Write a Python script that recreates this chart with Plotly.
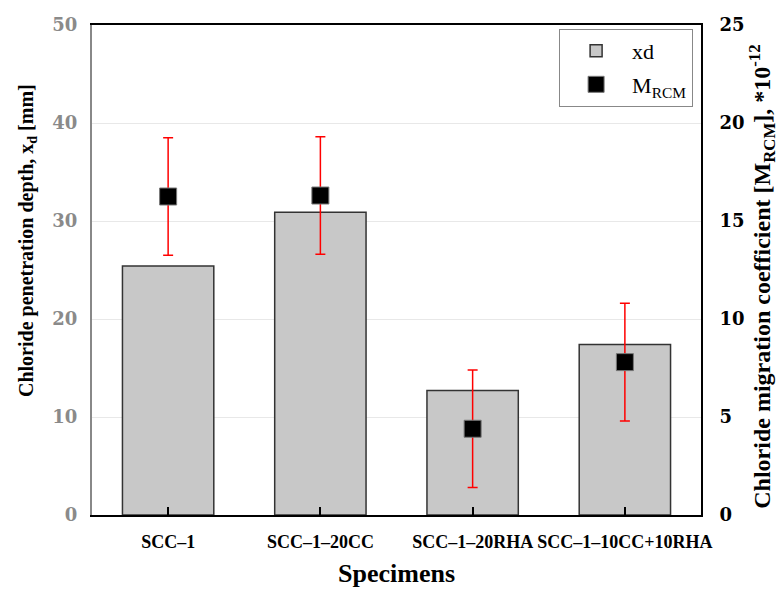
import plotly.graph_objects as go

categories = ["SCC–1", "SCC–1–20CC", "SCC–1–20RHA", "SCC–1–10CC+10RHA"]
xd_values = [25.4, 30.9, 12.7, 17.4]
mrcm_values = [16.25, 16.3, 4.4, 7.8]
mrcm_errors = [3.0, 3.0, 3.0, 3.0]

SERIF = "Liberation Serif"
NUM = "DejaVu Serif"

fig = go.Figure()
fig.add_trace(go.Bar(
    x=categories, y=xd_values, name="xd", legendgroup="a",
    marker=dict(color="#c8c8c8", line=dict(color="#333333", width=1.5)),
    width=0.6, yaxis="y",
))
fig.add_trace(go.Scatter(
    x=categories, y=mrcm_values, name="M<sub>RCM</sub>", mode="markers", legendgroup="b",
    marker=dict(symbol="square", size=17, color="black", line=dict(color="#777777", width=1)),
    error_y=dict(type="data", array=mrcm_errors, color="red", thickness=1.5, width=5),
    yaxis="y2",
))

fig.update_layout(
    width=779, height=589,
    margin=dict(l=92, r=78, t=25, b=74),
    paper_bgcolor="white", plot_bgcolor="white",
    font=dict(family=SERIF, color="black"),
    showlegend=True,
    legend=dict(
        x=0.767, y=0.992, xanchor="left", yanchor="top",
        bordercolor="#888888", borderwidth=1, bgcolor="white",
        font=dict(family=SERIF, size=22, color="black"),
        itemsizing="trace", traceorder="grouped", tracegroupgap=2,
        itemwidth=62,
    ),
    xaxis=dict(
        showline=True, linecolor="black", linewidth=2, mirror=True,
        ticks="inside", ticklen=8, tickcolor="black", tickwidth=1.5,
        tickfont=dict(family=SERIF, size=18, color="black", weight="bold"),
        showgrid=False, ticklabelstandoff=9,
    ),
    yaxis=dict(
        range=[0, 50], dtick=10,
        showline=True, linecolor="#888888", linewidth=2,
        showgrid=True, gridcolor="#e8e8e8", gridwidth=1,
        zeroline=False,
        tickfont=dict(family=NUM, size=18, color="#8a8a8a", weight="bold"),
        ticklabelstandoff=9,
    ),
    yaxis2=dict(
        range=[0, 25], dtick=5, overlaying="y", side="right",
        showline=True, linecolor="black", linewidth=2,
        showgrid=False, zeroline=False,
        tickfont=dict(family=NUM, size=18, color="black", weight="bold"),
        ticklabelstandoff=13,
    ),
    annotations=[
        dict(text="<b>Chloride penetration depth, x<sub>d</sub> [mm]</b>",
             xref="paper", yref="paper", x=-0.106, y=0.56,
             xanchor="center", yanchor="middle", textangle=-90, showarrow=False,
             font=dict(family=SERIF, size=20, color="black")),
        dict(text="<b>Chloride migration coefficient [M<sub>RCM</sub>], *10<sup>-12</sup></b>",
             xref="paper", yref="paper", x=1.1, y=0.486,
             xanchor="center", yanchor="middle", textangle=-90, showarrow=False,
             font=dict(family=SERIF, size=24, color="black")),
        dict(text="<b>Specimens</b>",
             xref="paper", yref="paper", x=0.5, y=-0.119,
             xanchor="center", yanchor="middle", showarrow=False,
             font=dict(family=SERIF, size=26, color="black")),
    ],
)

fig.write_html(
    "out.html",
    config={"displayModeBar": False},
    post_script="document.body.style.margin='0';document.body.style.overflow='hidden';",
)
